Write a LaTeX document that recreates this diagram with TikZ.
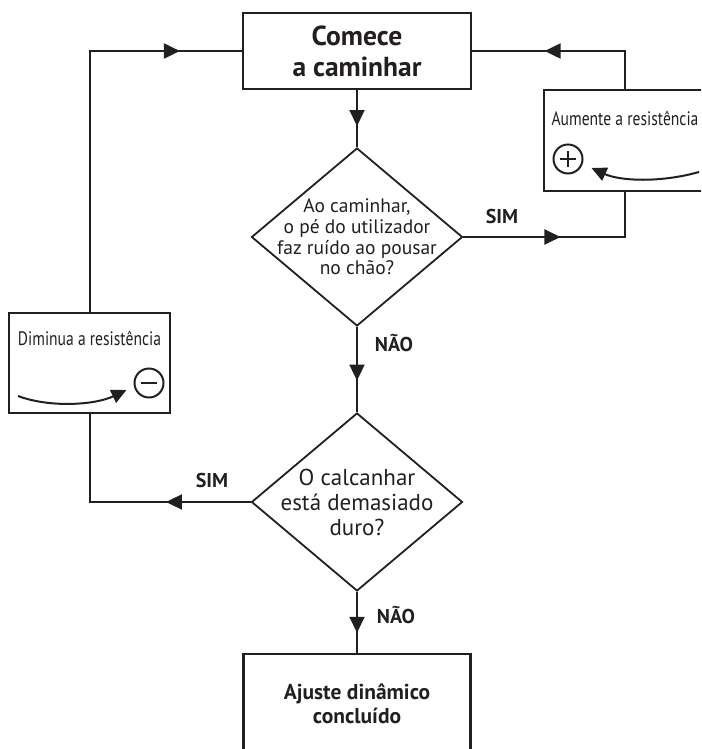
\documentclass[tikz,border=0pt]{standalone}
\usepackage{fontspec}
\setmainfont{PT Sans}
\newfontfamily\narrowfont[FakeStretch=0.8]{PT Sans}
\usetikzlibrary{positioning,shapes.geometric,arrows.meta,decorations.markings}
\definecolor{ink}{RGB}{35,31,32}

\begin{document}
\begin{tikzpicture}[
  x=1pt, y=-1pt,
  every node/.style={text=ink},
  box/.style={draw=ink, line width=2.2pt, rectangle, inner sep=0pt, align=center},
  startbox/.style={box, minimum width=228pt, minimum height=76pt,
    font=\bfseries\fontsize{27.5}{31}\selectfont},
  endbox/.style={box, minimum width=227pt, minimum height=100pt,
    font=\bfseries\fontsize{21.5}{23.5}\selectfont},
  boxtext/.style={font=\narrowfont\fontsize{19.5}{22}\selectfont, inner sep=0pt},
  decision/.style={diamond, draw=ink, line width=1.8pt, inner sep=-30pt,
    minimum width=211pt, minimum height=178pt, align=center},
  answer/.style={font=\bfseries\fontsize{20}{22}\selectfont},
  link/.style={draw=ink, line width=2pt},
  midtip/.style={postaction={decorate, decoration={markings,
    mark=at position #1 with {\arrow{Triangle[length=16pt,width=15pt]}}}}},
  sign/.style={circle, draw=ink, line width=2pt, minimum size=29pt, inner sep=0pt},
  dial/.style={draw=ink, line width=2pt, -{Triangle[length=15pt,width=14pt]}},
]
\clip (0,0) rectangle (701,749);

% main column
\node[startbox] (start) at (357,51) {Comece\\a caminhar};
\node[decision, font=\fontsize{19.5}{20.7}\selectfont] (noise) at (357,237)
  {Ao caminhar,\\o pé do utilizador\\faz ruído ao pousar\\no chão?};
\node[decision, font=\fontsize{23}{25}\selectfont] (heel) at (357,502)
  {O calcanhar\\está demasiado\\duro?};
\node[endbox] (done) at (357,704) {Ajuste dinâmico\\concluído};

% side boxes
\node[box, minimum width=162pt, minimum height=101pt] (raise) at (625,140.5) {};
\node[boxtext] (raisetext) at (625,118) {Aumente a resistência};
\node[sign] (plus) at (568,159) {};
\node[box, minimum width=161pt, minimum height=100pt] (lower) at (89.5,363) {};
\node[boxtext] (lowertext) at (89.5,338) {Diminua a resistência};
\node[sign] (minus) at (149,383) {};

% plus / minus signs and dial arrows
\draw[line width=2.2pt, ink] ([xshift=-8pt]plus.center) -- ([xshift=8pt]plus.center)
  ([yshift=-8pt]plus.center) -- ([yshift=8pt]plus.center);
\draw[line width=2.2pt, ink] ([xshift=-8pt]minus.center) -- ([xshift=8pt]minus.center);
\coordinate (raisefrom) at (699,172);
\coordinate (lowerfrom) at (18,396);
\draw[dial] (raisefrom) .. controls (660,183) and (620,181) .. ([shift={(8,9)}]plus.east);
\draw[dial] (lowerfrom) .. controls (50,408) and (95,405) .. ([shift={(-7,7)}]minus.west);

% answers
\node[answer] (yes1) at (502,216) {SIM};
\node[answer] (no1)  at (394,343) {NÃO};
\node[answer] (yes2) at (212,480) {SIM};
\node[answer] (no2)  at (396,615) {NÃO};

% connectors
\draw[link, midtip=0.63] (start.south) -- (noise.north);
\draw[link, midtip=0.47] (noise.east) -| (raise.south);
\draw[link, midtip=0.62] (raise.north) |- (start.east);
\draw[link, midtip=0.63] (noise.south) -- (heel.north);
\draw[link, midtip=0.34] (heel.west) -| (lower.south);
\draw[link, midtip=0.85] (lower.north) |- (start.west);
\draw[link, midtip=0.67] (heel.south) -- (done.north);
\end{tikzpicture}
\end{document}
